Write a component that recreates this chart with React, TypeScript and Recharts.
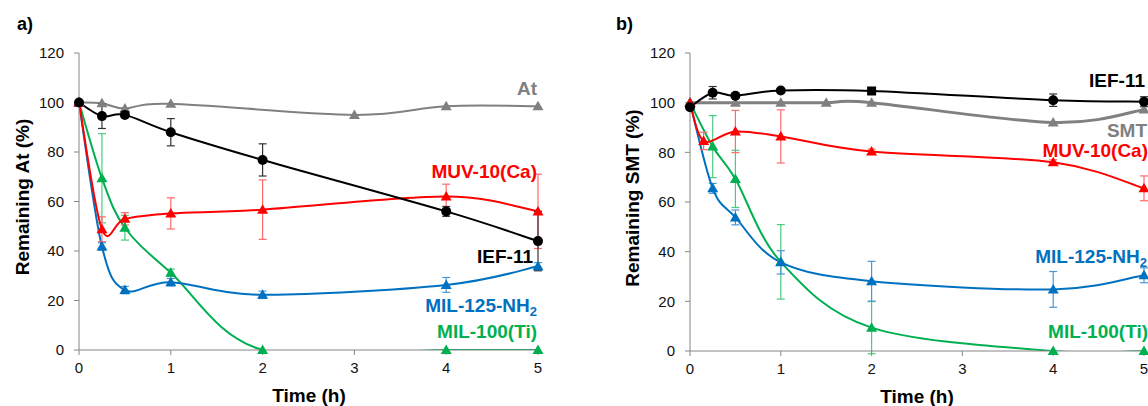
import React from 'react';
import { LineChart, Line, XAxis, YAxis, ErrorBar } from 'recharts';

// ---------- Panel a (Atrazine) ----------
const timesA = [0, 0.25, 0.5, 1, 2, 4, 5];
const timesA_At = [0, 0.25, 0.5, 1, 3, 4, 5];
const valA_At = [100, 99.7, 97.6, 99.5, 95, 98.5, 98.5];
const valA_IEF = [100, 94.5, 95, 88, 76.8, 56, 44];
const errA_IEF = [null, 5, 1, 5.5, 6.5, 2, 12];
const valA_MUV = [100, 48.8, 53, 55.2, 56.7, 62, 56];
const errA_MUV = [null, 5, 2.5, 6.3, 12, 5, 15];
const valA_125 = [100, 41.8, 24.2, 27.4, 22.3, 26.3, 33.8];
const errA_125 = [null, 1.5, 1.5, 1.5, 1.5, 3, 1.5];
const valA_100 = [100, 69.4, 49.4, 31.2, 0, 0, 0];
const errA_100 = [null, 18, 5, 1.5, null, null, null];

// ---------- Panel b (Sulfamethazine) ----------
const timesB = [0, 0.25, 0.5, 1, 2, 4, 5];
const timesB_SMT = [0, 0.5, 1, 1.5, 2, 4, 5];
const valB_SMT = [100, 100, 100, 100, 100, 92, 97.2];
const valB_IEF = [98.2, 104, 102.8, 104.9, 104.7, 101, 100.4];
const errB_IEF = [null, 2.5, 1, null, null, 2.5, 2];
const timesB_MUV = [0, 0.15, 0.5, 1, 2, 4, 5];
const valB_MUV = [100, 84.6, 88.4, 86.4, 80.3, 76, 65.5];
const errB_MUV = [null, 3.5, 8.5, 10.7, 1, 1, 5];
const valB_125 = [100, 65.5, 53.8, 35.7, 28.1, 24.8, 30.5];
const errB_125 = [null, 2, 3, 4.7, 8, 7.2, 3];
const valB_100 = [100, 82.3, 69.3, 35.9, 9.4, 0, 0];
const errB_100 = [null, 12.5, 11.5, 15, 10.5, null, null];
const squareMarkerTimesB_IEF = [2];

const xTicks = [0, 1, 2, 3, 4, 5];
const yTicks = [0, 20, 40, 60, 80, 100, 120];

const build = (xs: number[], ys: number[], es?: (number | null)[]) =>
  xs.map((x, i) => ({ x, y: ys[i], e: es ? es[i] : null }));

const FONT = '"Liberation Sans", Arial, sans-serif';
const AXIS = '#868686';

// Excel-like smoothed line (Catmull-Rom bezier)
const smooth: any = (context: any) => {
  let pts: number[][] = [];
  return {
    areaStart() {},
    areaEnd() {},
    lineStart() {
      pts = [];
    },
    point(x: number, y: number) {
      pts.push([+x, +y]);
    },
    lineEnd() {
      const n = pts.length;
      if (!n) return;
      context.moveTo(pts[0][0], pts[0][1]);
      for (let i = 0; i < n - 1; i++) {
        const p0 = pts[Math.max(i - 1, 0)];
        const p1 = pts[i];
        const p2 = pts[i + 1];
        const p3 = pts[Math.min(i + 2, n - 1)];
        const c1x = p1[0] + (p2[0] - p0[0]) / 6;
        const c1y = p1[1] + (p2[1] - p0[1]) / 6;
        const c2x = p2[0] - (p3[0] - p1[0]) / 6;
        const c2y = p2[1] - (p3[1] - p1[1]) / 6;
        context.bezierCurveTo(c1x, c1y, c2x, c2y, p2[0], p2[1]);
      }
    },
  };
};

const triDot = (color: string) => (props: any) => {
  const { cx, cy, index } = props;
  if (cx == null || cy == null) return <g key={`n${index}`} />;
  const s = 5.5;
  return (
    <path
      key={`t${index}`}
      d={`M${cx},${cy - 5.5} L${cx + s},${cy + 4} L${cx - s},${cy + 4} Z`}
      fill={color}
    />
  );
};

const circDot = (squares: number[]) => (props: any) => {
  const { cx, cy, index, payload } = props;
  if (cx == null || cy == null) return <g key={`n${index}`} />;
  if (payload && squares.includes(payload.x)) {
    return <rect key={`s${index}`} x={cx - 4.5} y={cy - 4.5} width={9} height={9} fill="#000" />;
  }
  return <circle key={`c${index}`} cx={cx} cy={cy} r={5} fill="#000" />;
};

const tickStyle = { fill: '#111', fontSize: 15, fontFamily: FONT };

type S = { name: string; data: any[]; color: string; err?: string; width?: number; dot: any };

type PanelProps = { series: S[]; yWidth: number; right: number; xHeight: number };

const Panel = ({ series, yWidth, right, xHeight }: PanelProps) => (
  <div style={{ position: 'relative', width: 574, height: 406 }}>
    {/* lines + error bars, clipped to the plot area like the original */}
    <div style={{ position: 'absolute', left: 0, top: 0 }}>
      <LineChart width={574} height={406} margin={{ top: 53, right, bottom: 0, left: 0 }}>
        <XAxis
          type="number"
          dataKey="x"
          domain={[0, 5]}
          ticks={xTicks}
          height={xHeight}
          tickSize={5}
          tickMargin={7}
          stroke={AXIS}
          tick={tickStyle}
          allowDataOverflow
        />
        <YAxis
          type="number"
          domain={[0, 120]}
          ticks={yTicks}
          width={yWidth}
          tickSize={5}
          tickMargin={10}
          stroke={AXIS}
          tick={tickStyle}
          allowDataOverflow
        />
        {series.map((s) => (
          <Line
            key={s.name}
            name={s.name}
            data={s.data}
            dataKey="y"
            type={smooth}
            stroke={s.color}
            strokeWidth={s.width ?? 2}
            dot={false}
            activeDot={false}
            isAnimationActive={false}
          >
            {s.err ? <ErrorBar dataKey="e" direction="y" width={4} stroke={s.err} strokeWidth={1.2} /> : null}
          </Line>
        ))}
      </LineChart>
    </div>
    {/* markers, not clipped */}
    <div style={{ position: 'absolute', left: 0, top: 0 }}>
      <LineChart width={574} height={406} margin={{ top: 53, right, bottom: xHeight, left: yWidth }}>
        <XAxis type="number" dataKey="x" domain={[0, 5]} ticks={xTicks} hide />
        <YAxis type="number" domain={[0, 120]} ticks={yTicks} hide />
        {series.map((s) => (
          <Line
            key={s.name}
            name={s.name}
            data={s.data}
            dataKey="y"
            stroke="none"
            strokeWidth={0}
            dot={s.dot}
            activeDot={false}
            isAnimationActive={false}
          />
        ))}
      </LineChart>
    </div>
  </div>
);

const seriesA: S[] = [
  { name: 'At', data: build(timesA_At, valA_At), color: '#808080', dot: triDot('#808080') },
  { name: 'MIL-100(Ti)', data: build(timesA, valA_100, errA_100), color: '#00b050', err: '#4ccb7f', dot: triDot('#00b050') },
  { name: 'MIL-125-NH2', data: build(timesA, valA_125, errA_125), color: '#0070c0', err: '#4a97d6', dot: triDot('#0070c0') },
  { name: 'MUV-10(Ca)', data: build(timesA, valA_MUV, errA_MUV), color: '#ff0000', err: '#ff6b6b', dot: triDot('#ff0000') },
  { name: 'IEF-11', data: build(timesA, valA_IEF, errA_IEF), color: '#000000', err: '#333333', dot: circDot([]) },
];

const seriesB: S[] = [
  { name: 'SMT', data: build(timesB_SMT, valB_SMT), color: '#808080', width: 3, dot: triDot('#808080') },
  { name: 'MIL-100(Ti)', data: build(timesB, valB_100, errB_100), color: '#00b050', err: '#4ccb7f', dot: triDot('#00b050') },
  { name: 'MIL-125-NH2', data: build(timesB, valB_125, errB_125), color: '#0070c0', err: '#4a97d6', dot: triDot('#0070c0') },
  { name: 'MUV-10(Ca)', data: build(timesB_MUV, valB_MUV, errB_MUV), color: '#ff0000', err: '#ff6b6b', dot: triDot('#ff0000') },
  { name: 'IEF-11', data: build(timesB, valB_IEF, errB_IEF), color: '#000000', err: '#333333', dot: circDot(squareMarkerTimesB_IEF) },
];

const lbl = { fontFamily: FONT, fontWeight: 700, fontSize: 19 } as const;

export default function App() {
  return (
    <div style={{ position: 'absolute', left: 0, top: 0, width: 1148, height: 406, background: '#fff', overflow: 'hidden' }}>
      <div style={{ position: 'absolute', left: 0, top: 0 }}>
        <Panel series={seriesA} yWidth={79} right={36} xHeight={56} />
      </div>
      <div style={{ position: 'absolute', left: 574, top: 0 }}>
        <Panel series={seriesB} yWidth={116} right={4} xHeight={55} />
      </div>
      <svg width={1148} height={406} style={{ position: 'absolute', left: 0, top: 0, pointerEvents: 'none' }}>
        <text x={17} y={30} {...lbl} fontSize={18} fill="#000">a)</text>
        <text x={616} y={30} {...lbl} fontSize={18} fill="#000">b)</text>
        <text x={29} y={197} {...lbl} fill="#000" textAnchor="middle" transform="rotate(-90 29 197)">Remaining At (%)</text>
        <text x={639} y={198} {...lbl} fill="#000" textAnchor="middle" transform="rotate(-90 639 198)">Remaining SMT (%)</text>
        <text x={309} y={402} {...lbl} fill="#000" textAnchor="middle">Time (h)</text>
        <text x={917} y={403} {...lbl} fill="#000" textAnchor="middle">Time (h)</text>

        <text x={537} y={95} {...lbl} fill="#808080" textAnchor="end">At</text>
        <text x={537} y={178} {...lbl} fill="#ff0000" textAnchor="end">MUV-10(Ca)</text>
        <text x={533} y={263} {...lbl} fill="#000" textAnchor="end">IEF-11</text>
        <text x={537} y={312} {...lbl} fill="#0070c0" textAnchor="end">MIL-125-NH<tspan fontSize={13} dy={4}>2</tspan></text>
        <text x={537} y={338} {...lbl} fill="#00b050" textAnchor="end">MIL-100(Ti)</text>

        <text x={1145} y={87} {...lbl} fill="#000" textAnchor="end">IEF-11</text>
        <text x={1147} y={137} {...lbl} fill="#808080" textAnchor="end">SMT</text>
        <text x={1148} y={157} {...lbl} fill="#ff0000" textAnchor="end">MUV-10(Ca)</text>
        <text x={1147} y={263} {...lbl} fill="#0070c0" textAnchor="end">MIL-125-NH<tspan fontSize={13} dy={4}>2</tspan></text>
        <text x={1148} y={338} {...lbl} fill="#00b050" textAnchor="end">MIL-100(Ti)</text>
      </svg>
    </div>
  );
}
